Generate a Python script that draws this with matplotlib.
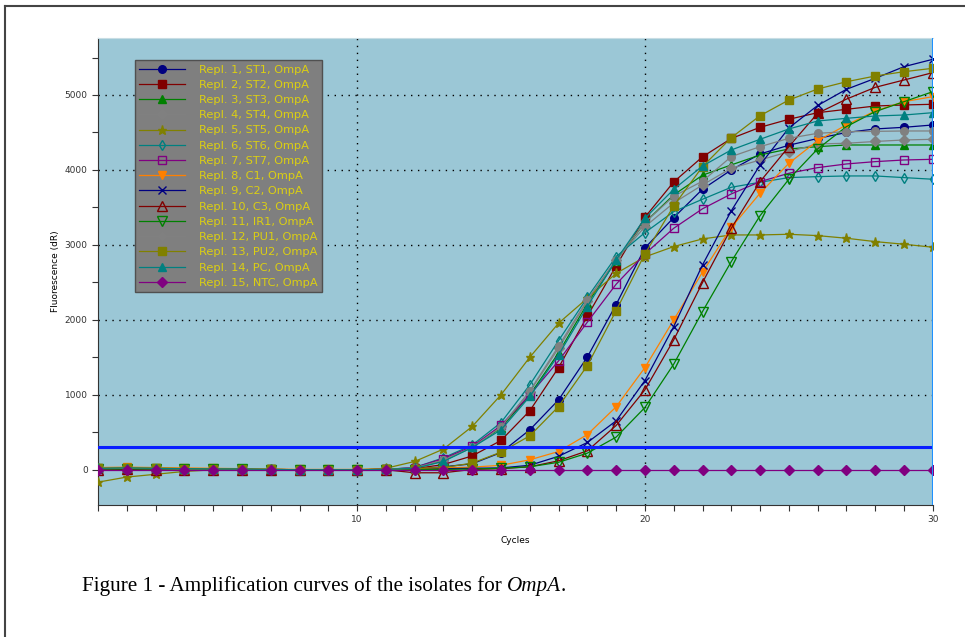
import matplotlib
matplotlib.use("Agg")
import matplotlib.pyplot as plt
from matplotlib.lines import Line2D

FIG_SIZE = (9.65, 6.37)
DPI = 100
AX_BG = "#9bc7d6"
LEGEND_BG = "#7f7f7f"
LEGEND_TEXT = "#dccf12"

cycles = list(range(1, 31))

labels = [
    "Repl. 1, ST1, OmpA", "Repl. 2, ST2, OmpA", "Repl. 3, ST3, OmpA",
    "Repl. 4, ST4, OmpA", "Repl. 5, ST5, OmpA", "Repl. 6, ST6, OmpA",
    "Repl. 7, ST7, OmpA", "Repl. 8, C1, OmpA", "Repl. 9, C2, OmpA",
    "Repl. 10, C3, OmpA", "Repl. 11, IR1, OmpA", "Repl. 12, PU1, OmpA",
    "Repl. 13, PU2, OmpA", "Repl. 14, PC, OmpA", "Repl. 15, NTC, OmpA",
]

st1 = [10, 15, 10, 10, 5, 5, 0, 0, 0, 0, 5, 10, 40, 80, 230, 533, 933, 1505,
       2205, 2960, 3364, 3743, 4000, 4213, 4330, 4420, 4500, 4547, 4569, 4600]
st2 = [15, 20, 15, 10, 10, 5, 5, 0, 0, 0, 5, 15, 70, 185, 391, 787, 1364, 2050,
       2720, 3369, 3840, 4175, 4420, 4569, 4676, 4764, 4809, 4853, 4867, 4876]
st3 = [20, 25, 20, 15, 10, 10, 5, 0, 0, 0, 5, 20, 120, 300, 560, 1000, 1560, 2220,
       2790, 3300, 3667, 3930, 4067, 4200, 4280, 4311, 4333, 4333, 4333, 4333]
st4 = [15, 20, 15, 10, 10, 5, 5, 0, 0, 0, 5, 25, 130, 305, 580, 1044, 1622, 2250,
       2800, 3244, 3560, 3800, 4022, 4133, 4244, 4347, 4356, 4380, 4400, 4409]
st5 = [-165, -97, -60, -22, 0, 0, 0, 0, 0, 0, 20, 111, 276, 578, 1000, 1502, 1956, 2289,
       2620, 2840, 2978, 3080, 3133, 3133, 3142, 3124, 3089, 3044, 3009, 2969]
st6 = [20, 20, 15, 10, 10, 5, 5, 0, 0, 0, 5, 30, 160, 330, 630, 1133, 1724, 2300,
       2844, 3164, 3444, 3609, 3769, 3836, 3898, 3911, 3920, 3920, 3898, 3876]
st7 = [15, 15, 10, 10, 5, 5, 0, 0, 0, 0, 5, 30, 150, 311, 591, 1000, 1453, 1970,
       2476, 2880, 3222, 3482, 3680, 3844, 3956, 4031, 4080, 4111, 4133, 4142]
c1 = [30, 35, 30, 25, 20, 15, 10, 5, 5, 5, 10, 15, 25, 35, 60, 133, 244, 470,
      840, 1364, 2000, 2637, 3233, 3689, 4089, 4390, 4600, 4787, 4911, 4978]
c2 = [10, 15, 10, 10, 5, 5, 0, 0, 0, 0, 5, 10, 15, 20, 25, 60, 180, 364,
      653, 1191, 1911, 2733, 3455, 4067, 4560, 4860, 5076, 5222, 5378, 5476]
c3 = [0, 5, 0, 0, 0, 0, 0, 0, 0, 0, 0, -40, -40, 5, 15, 40, 120, 253,
      591, 1067, 1733, 2498, 3222, 3844, 4311, 4756, 4945, 5102, 5200, 5298]
ir1 = [10, 10, 10, 5, 5, 5, 0, 0, 0, 0, 0, 0, 5, 10, 20, 40, 100, 222,
       436, 831, 1409, 2111, 2778, 3390, 3876, 4280, 4578, 4778, 4911, 5044]
pu1 = [15, 20, 15, 10, 10, 5, 5, 0, 0, 0, 5, 25, 130, 300, 570, 1050, 1650, 2270,
       2800, 3300, 3650, 3850, 4178, 4311, 4422, 4489, 4511, 4515, 4520, 4520]
pu2 = [20, 25, 20, 15, 10, 10, 5, 0, 0, 0, 5, 15, 30, 89, 236, 453, 844, 1391,
       2124, 2880, 3520, 4044, 4431, 4724, 4933, 5080, 5177, 5253, 5311, 5356]
pc = [20, 25, 20, 15, 10, 10, 5, 0, 0, 0, 5, 20, 111, 298, 533, 978, 1533, 2178,
      2800, 3356, 3742, 4053, 4267, 4409, 4547, 4653, 4689, 4720, 4733, 4764]
ntc = [0] * 30

series = [st1, st2, st3, st4, st5, st6, st7, c1, c2, c3, ir1, pu1, pu2, pc, ntc]
threshold = 302

# colour, marker, filled, marker size
styles = [
    ("#000080", "o", True, 5.5),
    ("#800000", "s", True, 5.5),
    ("#008000", "^", True, 5.5),
    ("#808080", "D", True, 5),
    ("#808000", "*", True, 6.5),
    ("#008080", "d", False, 5),
    ("#800080", "s", False, 6),
    ("#ff8000", "v", True, 6),
    ("#000080", "x", True, 6),
    ("#800000", "^", False, 6.5),
    ("#008000", "v", False, 6.5),
    ("#808080", "o", True, 5.5),
    ("#808000", "s", True, 6),
    ("#008080", "^", True, 6),
    ("#800080", "D", True, 5),
]

fig = plt.figure(figsize=FIG_SIZE, dpi=DPI)
ax = fig.add_axes([0.1016, 0.2072, 0.865, 0.7331])
ax.set_facecolor(AX_BG)

handles = []
for values, label, (color, marker, filled, ms) in zip(series, labels, styles):
    face = color if filled else "none"
    line, = ax.plot(cycles, values, color=color, lw=0.9, marker=marker,
                    markersize=ms, markerfacecolor=face, markeredgecolor=color,
                    markeredgewidth=1.0, label=label, zorder=3)
    handles.append(line)

ax.axhline(threshold, color="#0a1eff", lw=2.2, zorder=4)
ax.axvline(30, color="#1e90ff", lw=2.2, zorder=5)

ax.set_xlim(1, 30)
ax.set_ylim(-470, 5760)

ax.set_xticks(cycles)
ax.set_xticklabels([str(c) if c in (10, 20, 30) else "" for c in cycles])
ax.set_yticks(range(0, 6000, 500))
ax.set_yticklabels([str(v) if v % 1000 == 0 else "" for v in range(0, 6000, 500)])
ax.tick_params(labelsize=6.5, colors="#333333", length=4, width=0.8)

for x in (10, 20):
    ax.axvline(x, color="black", lw=1.0, ls=(0, (1, 4)), zorder=1)
for y in range(1000, 6000, 1000):
    ax.axhline(y, color="black", lw=1.0, ls=(0, (1, 4)), zorder=1)

for side in ("left", "bottom"):
    ax.spines[side].set_color("#333333")
ax.spines["top"].set_color("#c8dde4")
ax.spines["right"].set_visible(False)

ax.set_xlabel("Cycles", fontsize=6.5, labelpad=8)
ax.set_ylabel("Fluorescence (dR)", fontsize=6.5, labelpad=3)

leg = ax.legend(handles=handles, loc="upper left", bbox_to_anchor=(0.044, 0.953),
                borderaxespad=0, fontsize=8.2, labelspacing=0.46,
                handlelength=4.0, handletextpad=1.2, borderpad=0.4,
                fancybox=False, framealpha=1, facecolor=LEGEND_BG,
                edgecolor="#505050")
for txt in leg.get_texts():
    txt.set_color(LEGEND_TEXT)
leg.set_zorder(6)

# Page frame lines
fig.add_artist(Line2D([0.0052, 0.0052], [0, 0.9906], color="#444444", lw=1.5))
fig.add_artist(Line2D([0.0052, 1], [0.9906, 0.9906], color="#444444", lw=1.5))

# Caption with italic gene name
cap_y = 0.072
cap_size = 15.2
cap = fig.text(0.085, cap_y, "Figure 1 - Amplification curves of the isolates for ",
               fontsize=cap_size, family="Liberation Serif", va="baseline")
fig.canvas.draw()
bb = cap.get_window_extent().transformed(fig.transFigure.inverted())
gene = fig.text(bb.x1, cap_y, "OmpA", fontsize=cap_size, family="Liberation Serif",
                style="italic", va="baseline")
fig.canvas.draw()
bb2 = gene.get_window_extent().transformed(fig.transFigure.inverted())
fig.text(bb2.x1, cap_y, ".", fontsize=cap_size, family="Liberation Serif", va="baseline")

fig.savefig("out.png", dpi=DPI)
